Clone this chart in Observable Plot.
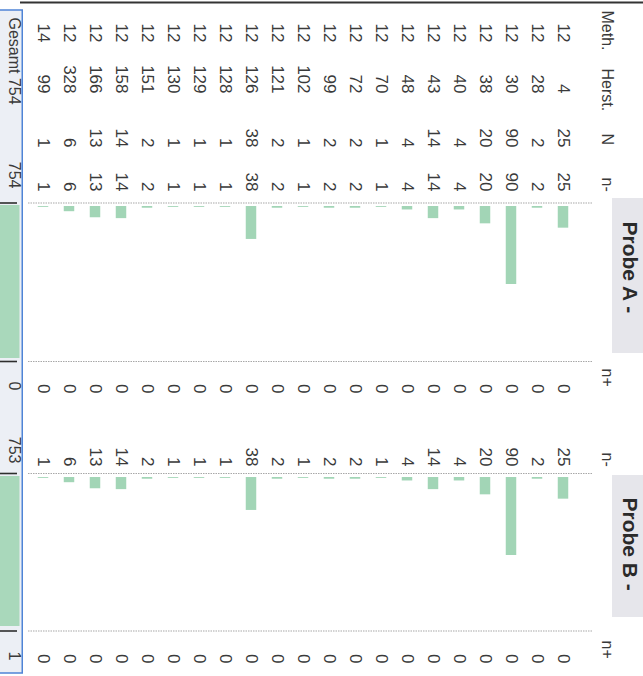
<!DOCTYPE html>
<html>
<head>
<meta charset="utf-8">
<script src="https://cdn.jsdelivr.net/npm/d3@7"></script>
<script src="https://cdn.jsdelivr.net/npm/@observablehq/plot@0.6"></script>
<style>
  html, body { margin: 0; padding: 0; background: #fff; }
  #wrap { position: relative; width: 643px; height: 676px; overflow: hidden; background: #fff; }
  #wrap svg { position: absolute; left: 0; overflow: hidden; }
</style>
</head>
<body>
<div id="wrap"></div>
<script>
// ---- data (rows of the rotated table, first row at the right) ----
const meth   = [12,12,12,12,12,12,12,12,12,12,12,12,12,12,12,12,12,12,12,12,14];
const herst  = [4,28,30,38,40,43,48,70,72,99,102,121,126,128,129,130,151,158,166,328,99];
const nTotal = [25,2,90,20,4,14,4,1,2,2,1,2,38,1,1,1,2,14,13,6,1];
const nMinusA = [25,2,90,20,4,14,4,1,2,2,1,2,38,1,1,1,2,14,13,6,1];
const nPlusA  = [0,0,0,0,0,0,0,0,0,0,0,0,0,0,0,0,0,0,0,0,0];
const nMinusB = [25,2,90,20,4,14,4,1,2,2,1,2,38,1,1,1,2,14,13,6,1];
const nPlusB  = [0,0,0,0,0,0,0,0,0,0,0,0,0,0,0,0,0,0,0,0,0];
const totalLabel = "Gesamt 754";
const totalNMinusA = 754;
const totalNPlusA = 0;
const totalNMinusB = 753;
const totalNPlusB = 1;
const headerLabels = ["Meth.", "Herst.", "N", "n-", "n+", "n-", "n+"];
const probeLabels = ["Probe A -", "Probe B -"];

// ---- table built from the arrays ----
const rows = meth.map((m, i) => ({
  id: String(i), meth: m, herst: herst[i], n: nTotal[i],
  nMinusA: nMinusA[i], nPlusA: nPlusA[i], nMinusB: nMinusB[i], nPlusB: nPlusB[i]
}));
const total = {id: "G", label: totalLabel, nMinusA: totalNMinusA, nPlusA: totalNPlusA,
               nMinusB: totalNMinusB, nPlusB: totalNPlusB};

// ---- layout ----
const font = "'Liberation Sans', Arial, Helvetica, sans-serif";
const ink = "#3a3a3a";
const barFill = "#a2d5b6";
const xScale = () => ({type: "band", domain: [...rows.map(d => d.id), "G"],
  range: [-1.75, 581.25], reverse: true, padding: 0, axis: null});
const headerStart = [10, 68, 133, 177, 368, 452, 640];
const colEnd = {meth: 42, herst: 93, n: 147, nMinusA: 191, nPlusA: 393, nMinusB: 466, nPlusB: 663};
const dotted = [202.5, 361, 473, 630.5];
const probeBox = [[198, 353], [475, 617]];
const probeTextY = [221, 497];

const wrap = document.getElementById("wrap");

const textCols = Object.keys(colEnd).map(k =>
  Plot.text(rows, {x: "id", y: () => colEnd[k], text: k, rotate: 90, textAnchor: "end",
    fontSize: 17, fill: ink, fontFamily: font}));

const main = Plot.plot({
  width: 643, height: 676,
  marginLeft: 28, marginRight: 50, marginTop: 0, marginBottom: 0,
  x: xScale(),
  y: {type: "identity", axis: null},
  style: {fontFamily: font, background: "transparent"},
  marks: [
    // Gesamt box
    Plot.rect([total], {x: "id", y1: () => 10, y2: () => 673, insetRight: 7.75, insetLeft: -5,
      fill: "#eceff5", stroke: "#4f84d6", strokeWidth: 1.5}),
    Plot.ruleY(dotted, {y: d => d, insetLeft: -28, insetRight: 576,
      stroke: "#2e2e2e", strokeWidth: 1.6}),
    // top border
    Plot.ruleY([2], {insetLeft: -8, insetRight: -50, stroke: "#333", strokeWidth: 2.2}),
    // probe header boxes
    Plot.rect(probeBox, {y1: d => d[0], y2: d => d[1], insetLeft: 584, insetRight: -50,
      fill: "#e6e6eb"}),
    Plot.text(probeLabels, {text: d => d, y: (d, i) => probeTextY[i], frameAnchor: "right", dx: 36,
      rotate: 90, textAnchor: "start", fontSize: 21, fontWeight: "bold", fill: "#2a2a2a",
      fontFamily: font, letterSpacing: "2px"}),
    // dotted separators
    Plot.ruleY(dotted, {stroke: "#a8a8a8", strokeWidth: 1.2, strokeDasharray: "1.5,1"}),
    // headers
    Plot.text(headerLabels, {text: d => d, y: (d, i) => headerStart[i], frameAnchor: "right", dx: 14,
      rotate: 90, textAnchor: "start", fontSize: 16, fill: ink, fontFamily: font}),
    // data
    ...textCols,
    // totals
    Plot.text([total], {x: "id", y: () => 17, text: "label", rotate: 90, textAnchor: "start",
      dx: -3, fontSize: 16, fill: ink, fontFamily: font}),
    ...["nMinusA", "nPlusA", "nMinusB", "nPlusB"].map(k =>
      Plot.text([total], {x: "id", y: () => colEnd[k] - 3, text: k, rotate: 90, textAnchor: "end",
        dx: -3, fontSize: 16, fill: ink, fontFamily: font}))
  ]
});
main.style.top = "0px";
wrap.appendChild(main);

function barPanel(key, top, height) {
  const svg = Plot.plot({
    width: 643, height,
    margin: 0,
    x: xScale(),
    y: {domain: [0, 90], range: [4, 82], axis: null},
    style: {background: "transparent"},
    marks: [
      Plot.barY(rows, {x: "id", y1: 0, y2: key, fill: barFill, insetLeft: 7.75, insetRight: 7.75}),
      Plot.barY([total], {x: "id", y1: 0, y2: key, fill: "#a9d8bb", insetTop: -1, insetLeft: -4,
        insetRight: 10.5, clip: true})
    ]
  });
  svg.style.top = top + "px";
  wrap.appendChild(svg);
}
barPanel("nMinusA", 202, 156);
barPanel("nMinusB", 473, 153);
</script>
</body>
</html>
